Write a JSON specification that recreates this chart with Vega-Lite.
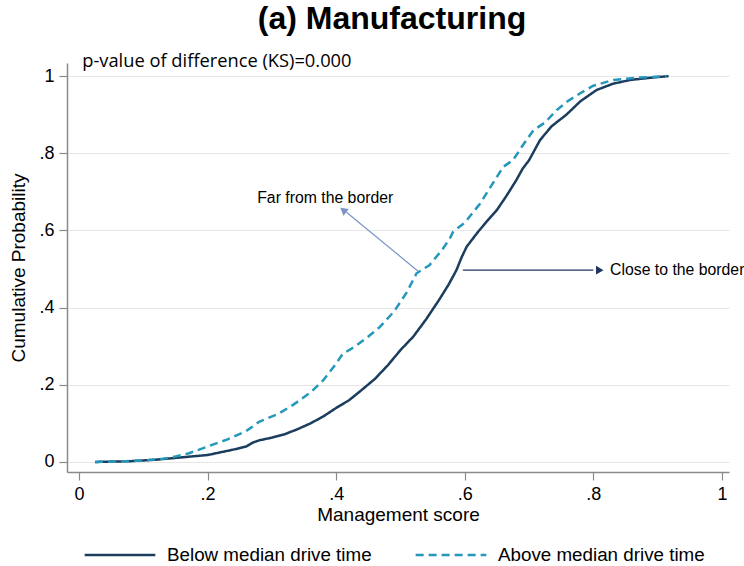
{
  "$schema": "https://vega.github.io/schema/vega-lite/v6.json",
  "width": 662,
  "height": 409,
  "autosize": "none",
  "padding": {"left": 67, "top": 63, "right": 15, "bottom": 94},
  "background": "white",
  "title": {"text": "(a) Manufacturing", "font": "Liberation Sans", "fontSize": 32, "fontWeight": "bold", "color": "black", "anchor": "middle", "frame": "group", "offset": 16, "dx": -6},
  "config": {
    "view": {"stroke": null},
    "axis": {"labelFont": "Liberation Sans", "titleFont": "Liberation Sans", "labelFontSize": 18, "titleFontSize": 19, "titleFontWeight": "normal", "labelColor": "black", "titleColor": "black", "domainColor": "#8a8a8a", "domainWidth": 1.5, "tickColor": "#8a8a8a", "tickSize": 8, "tickWidth": 1.2}
  },
  "datasets": {
    "cdf": [
      {"group": "Below median drive time", "score": 0.025, "p": 0.0},
      {"group": "Below median drive time", "score": 0.05, "p": 0.001},
      {"group": "Below median drive time", "score": 0.08, "p": 0.002},
      {"group": "Below median drive time", "score": 0.10, "p": 0.004},
      {"group": "Below median drive time", "score": 0.12, "p": 0.006},
      {"group": "Below median drive time", "score": 0.14, "p": 0.009},
      {"group": "Below median drive time", "score": 0.16, "p": 0.012},
      {"group": "Below median drive time", "score": 0.18, "p": 0.015},
      {"group": "Below median drive time", "score": 0.20, "p": 0.018},
      {"group": "Below median drive time", "score": 0.22, "p": 0.025},
      {"group": "Below median drive time", "score": 0.24, "p": 0.032},
      {"group": "Below median drive time", "score": 0.26, "p": 0.040},
      {"group": "Below median drive time", "score": 0.27, "p": 0.050},
      {"group": "Below median drive time", "score": 0.28, "p": 0.056},
      {"group": "Below median drive time", "score": 0.30, "p": 0.063},
      {"group": "Below median drive time", "score": 0.32, "p": 0.072},
      {"group": "Below median drive time", "score": 0.34, "p": 0.085},
      {"group": "Below median drive time", "score": 0.36, "p": 0.100},
      {"group": "Below median drive time", "score": 0.38, "p": 0.118},
      {"group": "Below median drive time", "score": 0.40, "p": 0.140},
      {"group": "Below median drive time", "score": 0.42, "p": 0.160},
      {"group": "Below median drive time", "score": 0.44, "p": 0.187},
      {"group": "Below median drive time", "score": 0.46, "p": 0.215},
      {"group": "Below median drive time", "score": 0.48, "p": 0.250},
      {"group": "Below median drive time", "score": 0.50, "p": 0.290},
      {"group": "Below median drive time", "score": 0.52, "p": 0.325},
      {"group": "Below median drive time", "score": 0.54, "p": 0.370},
      {"group": "Below median drive time", "score": 0.56, "p": 0.420},
      {"group": "Below median drive time", "score": 0.575, "p": 0.460},
      {"group": "Below median drive time", "score": 0.587, "p": 0.497},
      {"group": "Below median drive time", "score": 0.595, "p": 0.530},
      {"group": "Below median drive time", "score": 0.603, "p": 0.558},
      {"group": "Below median drive time", "score": 0.62, "p": 0.595},
      {"group": "Below median drive time", "score": 0.635, "p": 0.625},
      {"group": "Below median drive time", "score": 0.65, "p": 0.653},
      {"group": "Below median drive time", "score": 0.665, "p": 0.690},
      {"group": "Below median drive time", "score": 0.68, "p": 0.730},
      {"group": "Below median drive time", "score": 0.69, "p": 0.760},
      {"group": "Below median drive time", "score": 0.70, "p": 0.782},
      {"group": "Below median drive time", "score": 0.717, "p": 0.834},
      {"group": "Below median drive time", "score": 0.735, "p": 0.870},
      {"group": "Below median drive time", "score": 0.758, "p": 0.900},
      {"group": "Below median drive time", "score": 0.78, "p": 0.935},
      {"group": "Below median drive time", "score": 0.805, "p": 0.964},
      {"group": "Below median drive time", "score": 0.83, "p": 0.980},
      {"group": "Below median drive time", "score": 0.857, "p": 0.990},
      {"group": "Below median drive time", "score": 0.89, "p": 0.996},
      {"group": "Below median drive time", "score": 0.917, "p": 1.0},
      {"group": "Above median drive time", "score": 0.025, "p": 0.0},
      {"group": "Above median drive time", "score": 0.06, "p": 0.001},
      {"group": "Above median drive time", "score": 0.10, "p": 0.004},
      {"group": "Above median drive time", "score": 0.13, "p": 0.008},
      {"group": "Above median drive time", "score": 0.15, "p": 0.014},
      {"group": "Above median drive time", "score": 0.17, "p": 0.022},
      {"group": "Above median drive time", "score": 0.20, "p": 0.040},
      {"group": "Above median drive time", "score": 0.23, "p": 0.058},
      {"group": "Above median drive time", "score": 0.26, "p": 0.080},
      {"group": "Above median drive time", "score": 0.28, "p": 0.104},
      {"group": "Above median drive time", "score": 0.31, "p": 0.125},
      {"group": "Above median drive time", "score": 0.333, "p": 0.148},
      {"group": "Above median drive time", "score": 0.36, "p": 0.180},
      {"group": "Above median drive time", "score": 0.38, "p": 0.212},
      {"group": "Above median drive time", "score": 0.40, "p": 0.255},
      {"group": "Above median drive time", "score": 0.41, "p": 0.280},
      {"group": "Above median drive time", "score": 0.43, "p": 0.300},
      {"group": "Above median drive time", "score": 0.45, "p": 0.325},
      {"group": "Above median drive time", "score": 0.468, "p": 0.350},
      {"group": "Above median drive time", "score": 0.49, "p": 0.390},
      {"group": "Above median drive time", "score": 0.51, "p": 0.440},
      {"group": "Above median drive time", "score": 0.525, "p": 0.489},
      {"group": "Above median drive time", "score": 0.545, "p": 0.510},
      {"group": "Above median drive time", "score": 0.565, "p": 0.550},
      {"group": "Above median drive time", "score": 0.577, "p": 0.580},
      {"group": "Above median drive time", "score": 0.582, "p": 0.597},
      {"group": "Above median drive time", "score": 0.60, "p": 0.620},
      {"group": "Above median drive time", "score": 0.624, "p": 0.670},
      {"group": "Above median drive time", "score": 0.65, "p": 0.739},
      {"group": "Above median drive time", "score": 0.66, "p": 0.765},
      {"group": "Above median drive time", "score": 0.675, "p": 0.782},
      {"group": "Above median drive time", "score": 0.69, "p": 0.820},
      {"group": "Above median drive time", "score": 0.707, "p": 0.860},
      {"group": "Above median drive time", "score": 0.725, "p": 0.880},
      {"group": "Above median drive time", "score": 0.743, "p": 0.912},
      {"group": "Above median drive time", "score": 0.76, "p": 0.935},
      {"group": "Above median drive time", "score": 0.779, "p": 0.955},
      {"group": "Above median drive time", "score": 0.80, "p": 0.975},
      {"group": "Above median drive time", "score": 0.831, "p": 0.990},
      {"group": "Above median drive time", "score": 0.87, "p": 0.996},
      {"group": "Above median drive time", "score": 0.914, "p": 1.0}
    ]
  },
  "layer": [
    {
      "data": {"name": "cdf"},
      "mark": {"type": "line", "strokeWidth": 2.5, "interpolate": "linear"},
      "encoding": {
        "x": {"field": "score", "type": "quantitative", "scale": {"domain": [-0.0187, 1.011], "nice": false, "zero": false},
              "axis": {"title": "Management score", "values": [0, 0.2, 0.4, 0.6, 0.8, 1], "labelExpr": "datum.value == 0 ? '0' : datum.value == 1 ? '1' : replace(format(datum.value, '.1f'), '0.', '.')", "grid": false, "titlePadding": 2, "labelPadding": 5}},
        "y": {"field": "p", "type": "quantitative", "scale": {"domain": [-0.026, 1.034], "nice": false, "zero": false},
              "axis": {"title": "Cumulative Probability", "values": [0, 0.2, 0.4, 0.6, 0.8, 1], "labelExpr": "datum.value == 0 ? '0' : datum.value == 1 ? '1' : replace(format(datum.value, '.1f'), '0.', '.')", "grid": true, "gridColor": "#e6e6e6", "gridWidth": 1.2, "labelAngle": 0, "titlePadding": 10, "labelPadding": 5}},
        "color": {"field": "group", "type": "nominal", "scale": {"domain": ["Below median drive time", "Above median drive time"], "range": ["#1c3d5e", "#2497ba"]},
                  "legend": {"title": null, "orient": "none", "direction": "horizontal", "legendX": 16, "legendY": 455, "symbolType": "stroke", "symbolSize": 5000, "symbolStrokeWidth": 2.5, "labelFont": "Liberation Sans", "labelFontSize": 18.8, "labelColor": "black", "labelLimit": 400, "columnPadding": 38, "labelOffset": 10}},
        "strokeDash": {"field": "group", "type": "nominal", "scale": {"domain": ["Below median drive time", "Above median drive time"], "range": [[1, 0], [8, 5]]}, "legend": null},
        "order": {"field": "score", "type": "quantitative"}
      }
    },
    {
      "data": {"values": [{"x1": 0.527, "y1": 0.495, "x2": 0.416, "y2": 0.647}]},
      "mark": {"type": "rule", "strokeWidth": 1.2, "color": "#7a94c8"},
      "encoding": {
        "x": {"field": "x1", "type": "quantitative"},
        "y": {"field": "y1", "type": "quantitative"},
        "x2": {"field": "x2"},
        "y2": {"field": "y2"}
      }
    },
    {
      "data": {"values": [{"x1": 0.597, "y1": 0.497, "x2": 0.8, "y2": 0.497}]},
      "mark": {"type": "rule", "strokeWidth": 1.2, "color": "#1f3460"},
      "encoding": {
        "x": {"field": "x1", "type": "quantitative"},
        "y": {"field": "y1", "type": "quantitative"},
        "x2": {"field": "x2"},
        "y2": {"field": "y2"}
      }
    },
    {
      "data": {"values": [{"x": 0.411, "y": 0.653}]},
      "mark": {"type": "point", "filled": true, "size": 75, "opacity": 1, "shape": "triangle-up", "angle": 309, "color": "#7a94c8"},
      "encoding": {
        "x": {"field": "x", "type": "quantitative"},
        "y": {"field": "y", "type": "quantitative"}
      }
    },
    {
      "data": {"values": [{"x": 0.81, "y": 0.497}]},
      "mark": {"type": "point", "filled": true, "size": 75, "opacity": 1, "shape": "triangle-right", "color": "#1f3460"},
      "encoding": {
        "x": {"field": "x", "type": "quantitative"},
        "y": {"field": "y", "type": "quantitative"}
      }
    },
    {
      "data": {"values": [{"text": "Far from the border", "x": 0.383, "y": 0.684}]},
      "mark": {"type": "text", "font": "Liberation Sans", "fontSize": 15.8, "color": "black", "baseline": "middle", "align": "center"},
      "encoding": {
        "x": {"field": "x", "type": "quantitative"},
        "y": {"field": "y", "type": "quantitative"},
        "text": {"field": "text"}
      }
    },
    {
      "data": {"values": [{"text": "Close to the border", "x": 0.826, "y": 0.497}]},
      "mark": {"type": "text", "font": "Liberation Sans", "fontSize": 15.8, "color": "black", "baseline": "middle", "align": "left"},
      "encoding": {
        "x": {"field": "x", "type": "quantitative"},
        "y": {"field": "y", "type": "quantitative"},
        "text": {"field": "text"}
      }
    },
    {
      "data": {"values": [{"text": "p-value of difference (KS)=0.000", "x": 0.005, "y": 1.036}]},
      "mark": {"type": "text", "font": "Open Sans", "fontSize": 18.3, "color": "black", "align": "left", "baseline": "middle", "clip": false},
      "encoding": {
        "x": {"field": "x", "type": "quantitative"},
        "y": {"field": "y", "type": "quantitative"},
        "text": {"field": "text"}
      }
    }
  ]
}
